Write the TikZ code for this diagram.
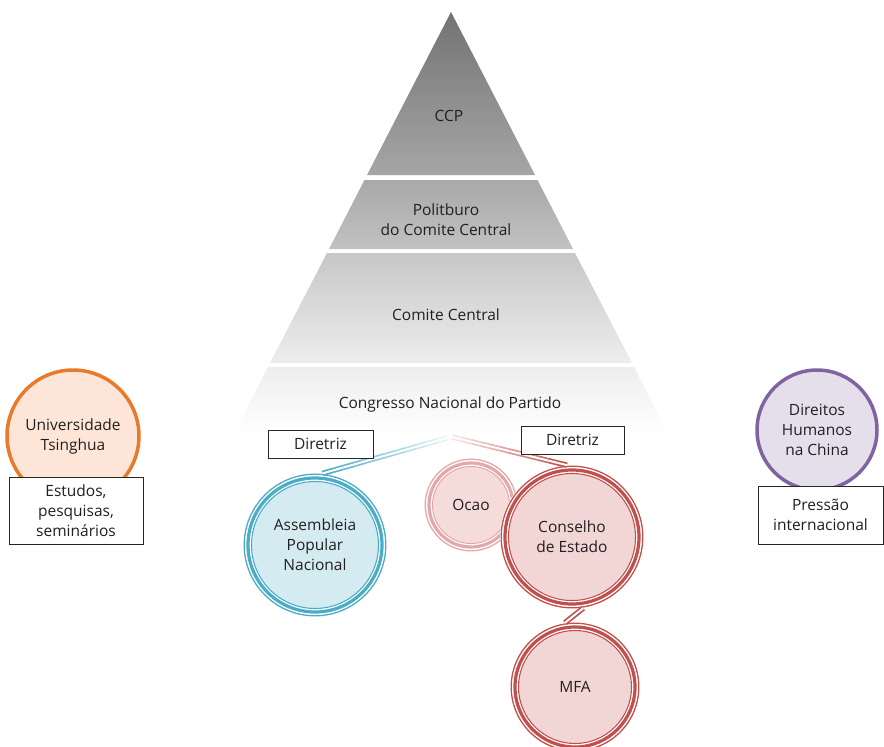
\documentclass[tikz,border=0pt]{standalone}
\usepackage{fontspec}
\setmainfont{Open Sans}
\usetikzlibrary{calc}
\definecolor{txtc}{HTML}{231F20}
\definecolor{teal1}{HTML}{4BACC6}
\definecolor{tealfill}{HTML}{D3EBF1}
\definecolor{red1}{HTML}{C0504D}
\definecolor{redfill}{HTML}{F2D6D5}
\definecolor{red2}{HTML}{E2A9A8}
\definecolor{redfill2}{HTML}{F5DCDB}
\definecolor{orange1}{HTML}{E87A2C}
\definecolor{orangefill}{HTML}{FDE6D7}
\definecolor{purple1}{HTML}{8064A2}
\definecolor{purplefill}{HTML}{E5DFEC}
\tikzset{
  lbl/.style={align=center, inner sep=0pt, text=txtc},
  box/.style={draw=black!85, fill=white, line width=0.9pt, align=center, inner sep=0pt, text=txtc},
  tring/.style n args={3}{circle, minimum size={2*#3pt}, inner sep=0pt, outer sep=0pt,
    fill=white, align=center, text=txtc,
    path picture={
      \fill[#2] (path picture bounding box.center) circle[radius={#3pt-9pt}];
      \draw[#1, line width=1.1pt] (path picture bounding box.center) circle[radius={#3pt-8.5pt}];
      \draw[#1, line width=3.2pt] (path picture bounding box.center) circle[radius={#3pt-5pt}];
      \draw[#1, line width=1.3pt] (path picture bounding box.center) circle[radius={#3pt-1.2pt}];
    }},
  sring/.style n args={3}{circle, minimum size={2*#3pt}, inner sep=0pt, outer sep=0pt,
    fill=#2, draw=#1, line width=3.5pt, align=center, text=txtc},
  conn/.style={line width=1.7pt, double=white, double distance=2pt},
}
\begin{document}
\begin{tikzpicture}[x=1pt,y=-1pt, font=\fontsize{15.5}{20}\selectfont]
\useasboundingbox (0,0) rectangle (884,747);
\clip (0,0) rectangle (884,747);
\fill[white] (0,0) rectangle (884,747);

% pyramid
\shade[top color=black!55, bottom color=black!35] (451,12) -- (535,175) -- (367,175) -- cycle;
\shade[top color=black!34, bottom color=black!24] (364.5,180) -- (537.5,180) -- (573,249) -- (329,249) -- cycle;
\shade[top color=black!22, bottom color=black!7] (327,253) -- (575,253) -- (632,363) -- (270,363) -- cycle;
\shade[top color=black!7, bottom color=white] (268,367) -- (634,367) -- (667,432) -- (235,432) -- cycle;

\node[lbl] (ccp) at (449,116) {CCP};
\node[lbl] (polit) at (446,220) {Politburo\\do Comite Central};
\node[lbl] (cc) at (446,315) {Comite Central};
\node[lbl] (cnp) at (450,404) {Congresso Nacional do Partido};

% circles
\node[tring={teal1}{tealfill}{72}] (ase) at (315,545) {Assembleia\\Popular\\Nacional};
\node[tring={red2}{redfill2}{47}] (ocao) at (471,505) {Ocao};
\node[tring={red1}{redfill}{72}] (cons) at (572,537) {Conselho\\de Estado};
\node[tring={red1}{redfill}{65}] (mfa) at (575,687) {MFA};
\node[sring={orange1}{orangefill}{66}] (uni) at (73,436) {Universidade\\Tsinghua};
\node[sring={purple1}{purplefill}{60}] (dh) at (817,430) {Direitos\\Humanos\\na China};

% connectors
\coordinate (jb) at (447,438);
\coordinate (jr) at (452,437);
\foreach \i in {0,...,11}{
  \pgfmathsetmacro\a{\i/12}
  \pgfmathsetmacro\b{(\i+1)/12}
  \pgfmathtruncatemacro\p{15+85*\i/11}
  \draw[conn, draw=teal1!\p!white] ($(jb)!\a!(ase.84)$) -- ($(jb)!\b!(ase.84)$);
  \draw[conn, draw=red1!\p!white] ($(jr)!\a!(cons.94)$) -- ($(jr)!\b!(cons.94)$);
}
\draw[conn, draw=red1] (cons.-81) -- (mfa.99);

% boxes
\node[box, minimum width=105pt, minimum height=28pt] (d1) at (320.5,444) {Diretriz};
\node[box, minimum width=103pt, minimum height=28pt] (d2) at (572.5,440) {Diretriz};
\node[box, minimum width=134pt, minimum height=67pt] (est) at (76,510.5) {Estudos,\\pesquisas,\\seminários};
\node[box, minimum width=125pt, minimum height=58pt] (pre) at (820.5,515) {Pressão\\internacional};
\end{tikzpicture}
\end{document}
